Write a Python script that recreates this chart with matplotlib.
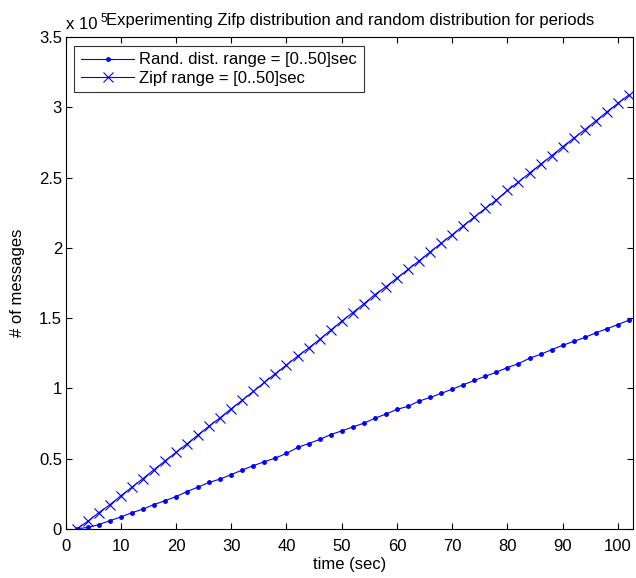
import matplotlib
matplotlib.use("Agg")
import matplotlib.pyplot as plt
from matplotlib.ticker import FuncFormatter

plt.rcParams['font.family'] = ['Liberation Sans', 'DejaVu Sans']

# time (sec)
time_sec = [2, 4, 6, 8, 10, 12, 14, 16, 18, 20, 22, 24, 26, 28, 30, 32, 34,
            36, 38, 40, 42, 44, 46, 48, 50, 52, 54, 56, 58, 60, 62, 64, 66,
            68, 70, 72, 74, 76, 78, 80, 82, 84, 86, 88, 90, 92, 94, 96, 98,
            100, 102]

# number of messages, in units of 1e5
rand_msgs = [0.0, 0.01, 0.03, 0.058, 0.084, 0.115, 0.14, 0.173, 0.20, 0.23,
             0.265, 0.298, 0.33, 0.355, 0.386, 0.419, 0.45, 0.478, 0.504,
             0.537, 0.579, 0.607, 0.636, 0.671, 0.697, 0.725, 0.752, 0.787,
             0.817, 0.85, 0.872, 0.909, 0.935, 0.964, 0.994, 1.025, 1.056,
             1.086, 1.115, 1.148, 1.176, 1.214, 1.242, 1.275, 1.306, 1.334,
             1.362, 1.395, 1.424, 1.454, 1.485]
zipf_msgs = [0.0, 0.053, 0.115, 0.171, 0.235, 0.296, 0.357, 0.421, 0.483,
             0.544, 0.605, 0.669, 0.732, 0.791, 0.855, 0.916, 0.978, 1.042,
             1.105, 1.166, 1.228, 1.287, 1.348, 1.414, 1.478, 1.539, 1.601,
             1.667, 1.723, 1.785, 1.846, 1.907, 1.971, 2.032, 2.093, 2.157,
             2.219, 2.28, 2.341, 2.408, 2.469, 2.532, 2.594, 2.655, 2.719,
             2.78, 2.841, 2.903, 2.967, 3.028, 3.089]

x_ticks = [0, 10, 20, 30, 40, 50, 60, 70, 80, 90, 100]
y_ticks = [0, 0.5, 1, 1.5, 2, 2.5, 3, 3.5]

FS = 12

fig = plt.figure(figsize=(6.36, 5.78), dpi=100)
ax = fig.add_axes([0.103, 0.085, 0.892, 0.851])

ax.plot(time_sec, [v * 1e5 for v in rand_msgs], color='#0000ff', lw=0.8,
        marker='.', markersize=5, label='Rand. dist. range = [0..50]sec')
ax.plot(time_sec, [v * 1e5 for v in zipf_msgs], color='#0000ff', lw=0.8,
        marker='x', markersize=6.5, markeredgewidth=0.8,
        label='Zipf range = [0..50]sec')

ax.set_xlim(0, 102.7)
ax.set_ylim(0, 3.5e5)
ax.set_xticks(x_ticks)
ax.set_yticks([v * 1e5 for v in y_ticks])
ax.yaxis.set_major_formatter(FuncFormatter(lambda v, p: '%g' % (v / 1e5)))

ax.tick_params(direction='in', length=4, width=0.8, top=True, right=True,
               labelsize=FS, colors='black')
ax.tick_params(axis='x', pad=7.5)
ax.tick_params(axis='y', pad=2.5)
for s in ax.spines.values():
    s.set_linewidth(0.8)

ax.set_xlabel('time (sec)', fontsize=FS, labelpad=2)
ax.set_ylabel('# of messages', fontsize=FS, labelpad=10)

# exponent and title, MATLAB style
fig.text(66 / 636, 1 - 29 / 578, 'x 10', fontsize=FS, va='baseline')
fig.text(100 / 636, 1 - 22 / 578, '5', fontsize=8.5, va='baseline')
fig.text(350 / 636, 1 - 25 / 578,
         'Experimenting Zifp distribution and random distribution for periods',
         fontsize=FS, ha='center', va='baseline')

leg = ax.legend(loc='upper left', fontsize=FS, frameon=True, fancybox=False,
                borderaxespad=0.53, handlelength=3.2, borderpad=0.4,
                labelspacing=0.2, handletextpad=0.3)
leg.get_frame().set_edgecolor('black')
leg.get_frame().set_linewidth(0.8)

fig.savefig('out.png', dpi=100)
